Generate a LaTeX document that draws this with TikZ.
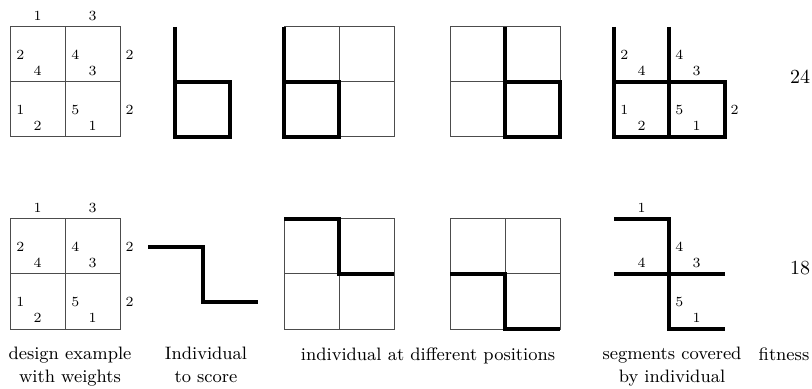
\documentclass[tikz,border=0pt]{standalone}
\tikzset{
  cell/.style={draw=black!70,line width=0.5pt},
  trace/.style={line width=2pt,line join=miter},
  weight/.style={font=\fontsize{7}{8}\selectfont,inner sep=0pt},
  score/.style={font=\fontsize{10}{12}\selectfont,inner sep=0pt},
  caption/.style={font=\fontsize{9}{11.5}\selectfont,align=center,anchor=north,inner sep=0pt},
  % 2x2 design grid
  pics/board/.style={code={
    \draw[cell] (0,0) rectangle (110,110) (55,0) -- (55,110) (0,55) -- (110,55);
  }},
  % grid with all its weights
  pics/weighted/.style={code={
    \pic {board};
    \node[weight] (-n1) at (27.5,-11) {1};
    \node[weight] (-n2) at (82.5,-11) {3};
    \node[weight] (-e1) at (119.5,28) {2};
    \node[weight] (-e2) at (119.5,83) {2};
    \foreach \cx/\cy/\lw/\bw [count=\i] in {0/0/2/4,55/0/4/3,0/55/1/2,55/55/5/1} {
      \node[weight,anchor=west] (-l\i) at (\cx+6,\cy+28) {\lw};
      \node[weight] (-b\i) at (\cx+27.5,\cy+44) {\bw};
    }
  }},
}

\begin{document}
\begin{tikzpicture}[x=0.5pt,y=-0.5pt]
  \useasboundingbox (0,0) rectangle (812,389);

  % top row
  \pic (wt) at (10,27) {weighted};
  \draw[trace] (175,27) -- (175,137) -- (230,137) -- (230,82) -- (175,82);
  \pic at (284,27) {board};
  \draw[trace] (284,27) -- (284,137) -- (339,137) -- (339,82) -- (284,82);
  \pic at (450,27) {board};
  \draw[trace] (505,27) -- (505,137) -- (560,137) -- (560,82) -- (505,82);
  \draw[trace] (614,27) -- (614,137) -- (725,137) -- (725,82) -- (614,82);
  \draw[trace] (669,27) -- (669,137);
  \foreach \cx/\cy/\lw/\bw [count=\i] in {614/27/2/4,669/27/4/3,614/82/1/2,669/82/5/1} {
    \node[weight,anchor=west] (ct-l\i) at (\cx+6,\cy+28) {\lw};
    \node[weight] (ct-b\i) at (\cx+27.5,\cy+44) {\bw};
  }
  \node[weight] (ct-e2) at (734.5,110) {2};
  \node[score] (ft) at (800,77) {24};

  % bottom row
  \pic (wb) at (10,219) {weighted};
  \draw[trace] (148,247) -- (203,247) -- (203,302) -- (258,302);
  \pic at (284,219) {board};
  \draw[trace] (284,219) -- (339,219) -- (339,274) -- (394,274);
  \pic at (450,219) {board};
  \draw[trace] (450,274) -- (505,274) -- (505,329) -- (560,329);
  \draw[trace] (614,219) -- (669,219) -- (669,329) -- (725,329);
  \draw[trace] (614,274) -- (725,274);
  \node[weight] (cb-n1) at (641.5,208) {1};
  \node[weight,anchor=west] (cb-l2) at (675,247) {4};
  \node[weight] (cb-b1) at (641.5,263) {4};
  \node[weight] (cb-b2) at (696.5,263) {3};
  \node[weight,anchor=west] (cb-l4) at (675,302) {5};
  \node[weight] (cb-b4) at (696.5,318) {1};
  \node[score] (fb) at (800,268) {18};

  % captions
  \node[caption] (cap1) at (70,347) {design example\\with weights};
  \node[caption] (cap2) at (206,347) {Individual\\to score};
  \node[caption] (cap3) at (428,347) {individual at different positions};
  \node[caption] (cap4) at (672,347) {segments covered\\by individual};
  \node[caption] (cap5) at (784,347) {fitness};
\end{tikzpicture}
\end{document}
